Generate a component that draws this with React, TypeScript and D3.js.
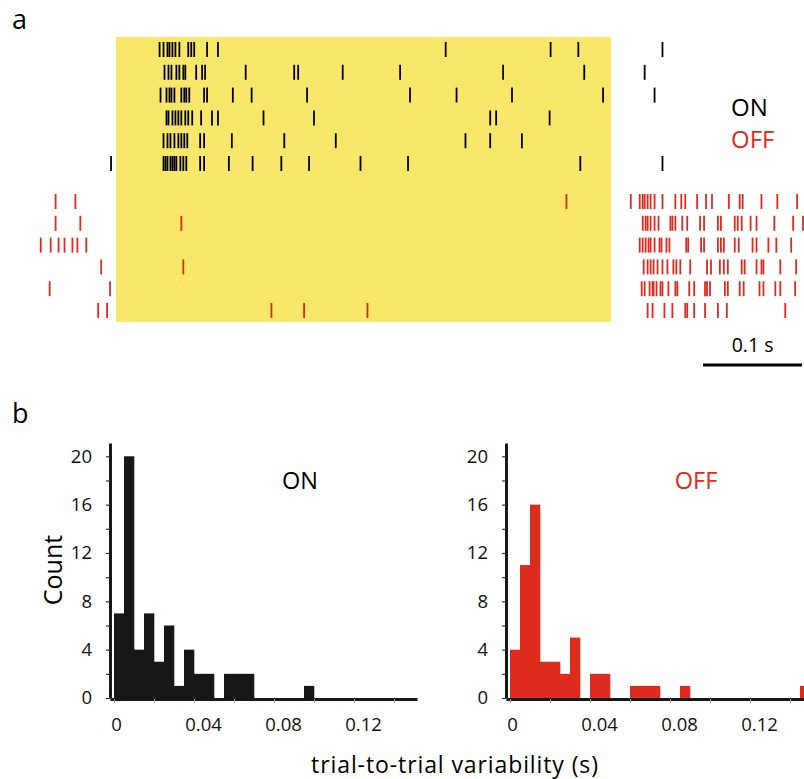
import React, { useEffect, useRef } from 'react';
import * as d3 from 'd3';

// spike times in ms relative to stimulus onset (light on at 0, off at 500)
const onTrials: number[][] = [
	[44, 48, 52, 54, 57, 60, 64, 73, 76, 79, 92, 103, 333, 439, 467, 552],
	[49, 53, 56, 61, 64, 68, 70, 81, 87, 90, 131, 180, 184, 229, 287, 391, 473, 534],
	[45, 51, 54, 56, 59, 66, 69, 71, 74, 89, 92, 118, 137, 193, 297, 344, 400, 492, 544],
	[51, 53, 57, 60, 63, 66, 70, 73, 77, 86, 97, 103, 149, 200, 378, 384, 438],
	[48, 52, 55, 59, 63, 66, 69, 72, 85, 89, 117, 170, 222, 353, 378, 410],
	[-5, 48, 50, 52, 55, 57, 59, 61, 65, 68, 71, 85, 89, 114, 138, 167, 195, 247, 295, 469, 552]
];
const offTrials: number[][] = [
	[-61, -41, 455, 520, 529, 532, 534, 537, 540, 544, 552, 565, 571, 575, 587, 596, 602, 619, 630, 633, 652, 668, 688],
	[-61, -36, 66, 532, 535, 537, 540, 544, 548, 560, 562, 565, 572, 577, 590, 594, 608, 611, 625, 628, 632, 641, 647, 665, 684, 694],
	[-76, -66, -58, -52, -44, -39, -30, 529, 532, 535, 538, 540, 544, 549, 551, 556, 559, 576, 578, 591, 594, 608, 611, 614, 625, 629, 643, 647, 659, 667, 682],
	[-15, 68, 533, 537, 540, 543, 547, 552, 557, 563, 566, 570, 580, 597, 601, 610, 614, 618, 632, 635, 647, 652, 654, 671, 687],
	[-67, -6, 531, 534, 539, 542, 543, 546, 550, 552, 558, 565, 567, 579, 584, 595, 597, 600, 615, 618, 630, 634, 650, 654, 666, 671, 686],
	[-18, -9, 157, 190, 254, 537, 542, 554, 562, 575, 577, 584, 595, 608, 617, 676]
];
const stimulus = [0, 500]; // ms
const scaleBar = [593, 693]; // 0.1 s

// histogram counts, bins of 0.005 s starting at 0
const binWidth = 0.005;
const onCounts = [7, 20, 4, 7, 3, 6, 1, 4, 2, 2, 0, 2, 2, 2, 0, 0, 0, 0, 0, 1, 0, 0, 0, 0, 0, 0, 0, 0, 0, 0];
const offCounts = [4, 11, 16, 3, 3, 2, 5, 0, 2, 2, 0, 0, 1, 1, 1, 0, 0, 1, 0, 0, 0, 0, 0, 0, 0, 0, 0, 0, 0, 1];
const yTicks = [0, 2, 4, 6, 8, 10, 12, 14, 16, 18, 20];
const xTicks = [0, 0.02, 0.04, 0.06, 0.08, 0.1, 0.12, 0.14];

const FONT = '"Open Sans", "Noto Sans", sans-serif';
const BLACK = '#161816';
const RED = '#de2b1e';
const YELLOW = '#f8e769';

export default function App() {
	const ref = useRef<SVGSVGElement>(null);

	useEffect(() => {
		const svg = d3.select(ref.current);
		svg.selectAll('*').remove();

		// ---- panel a: raster
		const x = d3.scaleLinear().domain([0, 500]).range([116, 611]);
		const yOn = d3.scaleLinear().domain([0, 5]).range([49.5, 163.5]);
		const yOff = d3.scaleLinear().domain([0, 5]).range([201.5, 310.5]);

		svg.append('rect')
			.attr('x', x(stimulus[0])).attr('width', x(stimulus[1]) - x(stimulus[0]))
			.attr('y', 37).attr('height', 285)
			.attr('fill', YELLOW);

		const drawRaster = (trials: number[][], y: d3.ScaleLinear<number, number>, color: string) => {
			trials.forEach((spikes, i) => {
				svg.append('g').selectAll('line')
					.data(spikes).enter().append('line')
					.attr('x1', d => x(d)).attr('x2', d => x(d))
					.attr('y1', y(i) - 7.5).attr('y2', y(i) + 7.5)
					.attr('stroke', color).attr('stroke-width', 1.8);
			});
		};
		drawRaster(onTrials, yOn, '#000');
		drawRaster(offTrials, yOff, RED);

		svg.append('text').text('ON').attr('x', 731).attr('y', 116)
			.attr('font-size', 24).attr('fill', '#000').style('font-family', FONT);
		svg.append('text').text('OFF').attr('x', 731).attr('y', 148)
			.attr('font-size', 24).attr('fill', RED).style('font-family', FONT);

		svg.append('line')
			.attr('x1', x(scaleBar[0])).attr('x2', x(scaleBar[1]))
			.attr('y1', 365).attr('y2', 365)
			.attr('stroke', '#000').attr('stroke-width', 3);
		svg.append('text').text('0.1 s')
			.attr('x', (x(scaleBar[0]) + x(scaleBar[1])) / 2).attr('y', 352)
			.attr('text-anchor', 'middle').attr('font-size', 19.5).style('font-family', FONT);

		// ---- panel b: histograms
		const drawHist = (x0: number, counts: number[], color: string, label: string) => {
			const hx = d3.scaleLinear().domain([-0.002, 0.1515]).range([x0 - 4, x0 + 303]);
			const hy = d3.scaleLinear().domain([0, 21.1]).range([698, 443]);
			const g = svg.append('g');

			g.selectAll('rect')
				.data(counts).enter().append('rect')
				.attr('x', (d, i) => hx(i * binWidth))
				.attr('width', hx(binWidth) - hx(0) + 0.3)
				.attr('y', d => hy(d))
				.attr('height', d => hy(0) - hy(d))
				.attr('fill', color);

			const yAxis = d3.axisLeft(hy)
				.tickValues(yTicks)
				.tickSize(4).tickSizeOuter(0).tickPadding(14)
				.tickFormat(d => ((d as number) % 4 === 0 ? String(d) : ''));
			const ya = g.append('g').attr('transform', `translate(${x0 - 4},0)`).call(yAxis);
			ya.select('.domain').attr('stroke', BLACK).attr('stroke-width', 3);
			ya.selectAll('.tick line').attr('stroke', '#333').attr('stroke-width', 1.2);
			ya.selectAll('.tick text').attr('font-size', 18.5).style('font-family', FONT).attr('fill', '#111');

			const xAxis = d3.axisBottom(hx)
				.tickValues(xTicks)
				.tickSize(4).tickSizeOuter(0).tickPadding(15)
				.tickFormat(d => {
					const v = Math.round((d as number) * 100);
					return v % 4 === 0 ? (v === 0 ? '0' : d3.format('.2f')(d as number)) : '';
				});
			const xa = g.append('g').attr('transform', 'translate(0,699)').call(xAxis);
			xa.select('.domain').attr('stroke', BLACK).attr('stroke-width', 3);
			xa.selectAll('.tick line').attr('stroke', '#999').attr('stroke-width', 1.2);
			xa.selectAll('.tick text')
				.attr('font-size', 18.5).style('font-family', FONT).attr('fill', '#111')
				.attr('dx', d => ((d as number) === 0 ? 2 : 9));

			g.append('text').text(label)
				.attr('x', x0 + 186).attr('y', 489)
				.attr('text-anchor', 'middle')
				.attr('font-size', 23.5).attr('fill', color === BLACK ? '#000' : color)
				.style('font-family', FONT);
		};
		drawHist(114, onCounts, BLACK, 'ON');
		drawHist(510, offCounts, RED, 'OFF');

		svg.append('text').text('Count')
			.attr('transform', 'translate(62,570) rotate(-90)')
			.attr('text-anchor', 'middle').attr('font-size', 25).style('font-family', FONT);
		svg.append('text').text('trial-to-trial variability (s)')
			.attr('x', 455).attr('y', 773)
			.attr('text-anchor', 'middle').attr('font-size', 23)
			.attr('letter-spacing', 0.9).style('font-family', FONT);

		svg.append('text').text('a').attr('x', 12).attr('y', 29)
			.attr('font-size', 27).style('font-family', FONT);
		svg.append('text').text('b').attr('x', 12).attr('y', 423)
			.attr('font-size', 27).style('font-family', FONT);
	}, []);

	return (
		<svg ref={ref} width={804} height={779}
			style={{ position: 'absolute', left: 0, top: 0, background: '#fff' }} />
	);
}
